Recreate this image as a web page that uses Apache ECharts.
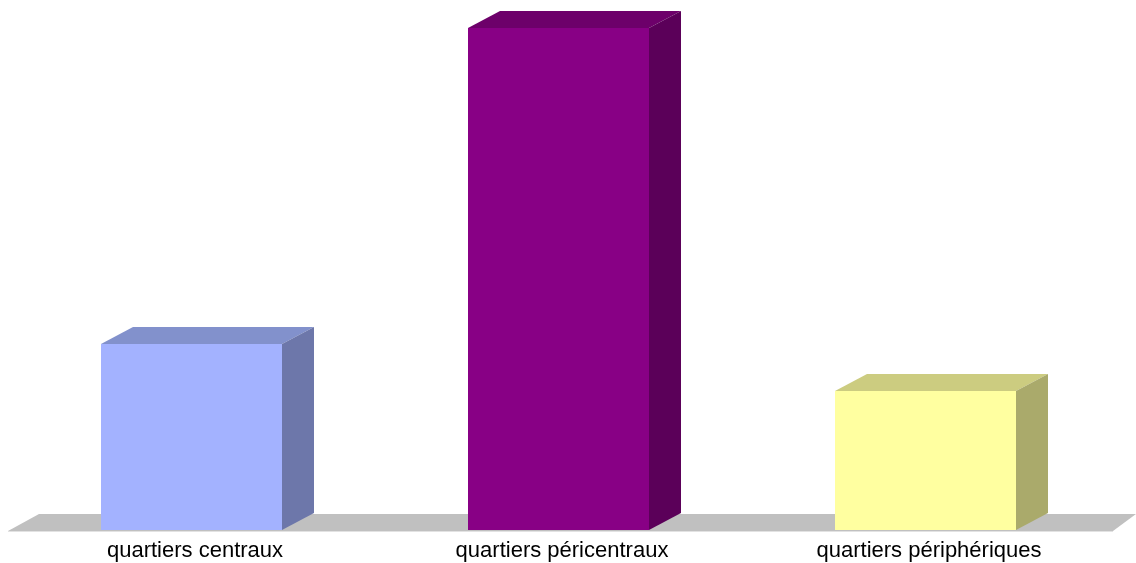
<!DOCTYPE html>
<html>
<head>
<meta charset="utf-8">
<style>html,body{margin:0;padding:0;background:#fff}#c{width:1136px;height:563px}</style>
<script src="https://cdn.jsdelivr.net/npm/echarts@6/dist/echarts.min.js"></script>
</head>
<body>
<div id="c"></div>
<script>
const categories = ['quartiers centraux', 'quartiers péricentraux', 'quartiers périphériques'];
const shares = [22.4, 60.6, 16.8];
const frontColors = ['#A3B2FF', '#880085', '#FFFFA0'];
const topColors = ['#8291CC', '#6D006A', '#CCCC80'];
const sideColors = ['#6D77AA', '#5B0059', '#AAAA6B'];

const DEPTH_X = 32, DEPTH_Y = 17;

function poly(points, fill) {
  return { type: 'polygon', shape: { points }, style: { fill, stroke: null } };
}

function renderFloor(params, api) {
  const cs = params.coordSys;
  const y = cs.y + cs.height + 1, l = cs.x, r = cs.x + cs.width + 4;
  return { type: 'group', children: [
    poly([[l, y], [r, y], [r + 23, y - DEPTH_Y], [l + 31, y - DEPTH_Y]], '#C0C0C0'),
    { type: 'rect', shape: { x: l, y, width: r - l, height: 1 }, style: { fill: '#E2E2E2' } }
  ] };
}

function renderBar(params, api) {
  const i = params.dataIndex;
  const base = api.coord([api.value(0), 0]);
  const tip = api.coord([api.value(0), api.value(1)]);
  const w = api.size([1, 0])[0] * 0.4932;
  const l = Math.round(base[0] - w / 2), r = Math.round(base[0] + w / 2), b = base[1], t = Math.round(tip[1]);
  return { type: 'group', children: [
    poly([[l, t], [r, t], [r + DEPTH_X, t - DEPTH_Y], [l + DEPTH_X, t - DEPTH_Y]], topColors[i]),
    poly([[r, t], [r + DEPTH_X, t - DEPTH_Y], [r + DEPTH_X, b - DEPTH_Y], [r, b]], sideColors[i]),
    poly([[l, t], [r, t], [r, b], [l, b]], frontColors[i])
  ] };
}

const chart = echarts.init(document.getElementById('c'), null, { renderer: 'canvas' });
chart.setOption({
  animation: false,
  backgroundColor: '#fff',
  grid: { left: 8, width: 1101, top: 28, bottom: 33, containLabel: false },
  xAxis: {
    type: 'category',
    data: categories,
    axisLine: { show: false },
    axisTick: { show: false },
    splitLine: { show: false },
    axisLabel: {
      color: '#000',
      fontFamily: 'Liberation Sans, Arial, sans-serif',
      fontSize: 22,
      margin: 10,
      interval: 0,
      padding: [0, 0, 0, 7]
    }
  },
  yAxis: { type: 'value', min: 0, max: 60.6, show: false },
  series: [
    { type: 'custom', renderItem: renderFloor, data: [[0, 0]], z: 1, silent: true, clip: false,
      encode: { x: 0, y: 1 } },
    { type: 'custom', renderItem: renderBar, data: categories.map((c, i) => [i, shares[i]]), z: 2, clip: false,
      encode: { x: 0, y: 1 } }
  ]
});
</script>
</body>
</html>
